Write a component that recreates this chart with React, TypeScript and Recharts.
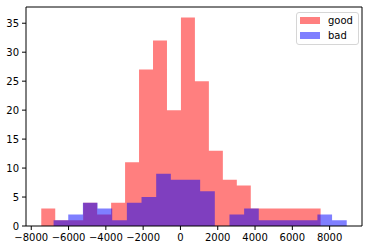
import { AreaChart, Area, XAxis, YAxis, ReferenceLine, Legend } from 'recharts';

// histogram bins
const goodEdges = [
  -7463, -6714, -5965, -5216, -4467, -3718, -2969, -2220, -1471, -722, 27,
  776, 1525, 2274, 3023, 3772, 4521, 5270, 6019, 6768, 7517,
];
const goodCounts = [3, 1, 1, 4, 2, 4, 11, 27, 32, 20, 36, 25, 13, 8, 7, 3, 3, 3, 3, 3];

const badEdges = [
  -6803, -6017, -5231, -4445, -3659, -2873, -2087, -1301, -515, 271, 1057,
  1843, 2629, 3415, 4201, 4987, 5773, 6559, 7345, 8131, 8917,
];
const badCounts = [1, 2, 4, 3, 1, 4, 5, 9, 8, 8, 6, 0, 2, 3, 1, 1, 1, 1, 2, 1];

const xTicks = [-8000, -6000, -4000, -2000, 0, 2000, 4000, 6000, 8000];
const yTicks = [0, 5, 10, 15, 20, 25, 30, 35];
const xDomain = [-8282, 9736];
const yDomain = [0, 37.8];

const series = [
  { key: 'good', name: 'good', color: '#ff0000' },
  { key: 'bad', name: 'bad', color: '#0000ff' },
];

const countAt = (edges: number[], counts: number[], x: number) => {
  for (let i = 0; i < counts.length; i++) {
    if (x >= edges[i] && x < edges[i + 1]) return counts[i];
  }
  return 0;
};

const xs = Array.from(new Set([...goodEdges, ...badEdges])).sort((a, b) => a - b);
const table = xs.map((x) => ({
  x,
  good: countAt(goodEdges, goodCounts, x),
  bad: countAt(badEdges, badCounts, x),
}));

const fmt = (v: number) => String(v).replace('-', '\u2212');

const tickStyle = { fill: '#000', fontSize: 10, fontFamily: 'DejaVu Sans' };

const renderLegend = () => (
  <div
    style={{
      border: '1px solid #d6d6d6',
      borderRadius: 3,
      background: 'rgba(255,255,255,0.8)',
      padding: '0 5px 1px 3px',
      fontFamily: 'DejaVu Sans',
      fontSize: 10,
      lineHeight: '15px',
      color: '#000',
    }}
  >
    {series.map((s) => (
      <div key={s.key} style={{ display: 'flex', alignItems: 'center' }}>
        <span
          style={{
            display: 'inline-block',
            width: 20,
            height: 7,
            background: s.color,
            opacity: 0.5,
            marginRight: 8,
          }}
        />
        <span>{s.name}</span>
      </div>
    ))}
  </div>
);

const App = () => {
  return (
    <div>
      <style>{'body{margin:0}'}</style>
      <AreaChart
        width={369}
        height={246}
        data={table}
        margin={{ top: 7, right: 7, left: 0, bottom: 0 }}
        style={{ fontFamily: 'DejaVu Sans' }}
      >
        <XAxis
          dataKey="x"
          type="number"
          domain={xDomain}
          ticks={xTicks}
          interval={0}
          allowDataOverflow
          tickFormatter={fmt}
          height={20}
          tickSize={4}
          tickMargin={4}
          tick={tickStyle}
          stroke="#000"
        />
        <YAxis
          type="number"
          domain={yDomain}
          ticks={yTicks}
          interval={0}
          allowDataOverflow
          width={26}
          tickSize={4}
          tickMargin={3}
          tick={tickStyle}
          stroke="#000"
        />
        {series.map((s) => (
          <Area
            key={s.key}
            dataKey={s.key}
            name={s.name}
            type="stepAfter"
            fill={s.color}
            fillOpacity={0.5}
            stroke="none"
            isAnimationActive={false}
          />
        ))}
        <ReferenceLine y={yDomain[1]} stroke="#000" />
        <ReferenceLine x={xDomain[1]} stroke="#000" />
        <Legend
          layout="horizontal"
          align="center"
          verticalAlign="middle"
          content={renderLegend}
          wrapperStyle={{ top: 12, left: 296, right: 'auto', bottom: 'auto', width: 'auto' }}
        />
      </AreaChart>
    </div>
  );
};

export default App;
